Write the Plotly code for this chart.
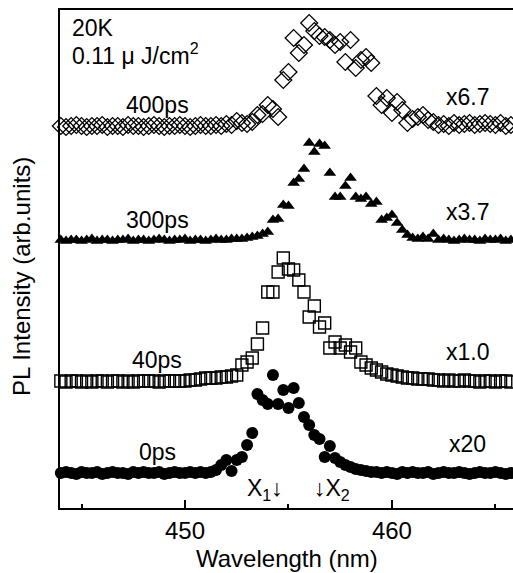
import numpy as np
import plotly.graph_objects as go

# Wavelength sampling grid (nm), 0.25 nm steps
wavelength = np.round(np.arange(444.0, 466.001, 0.25), 2)

# Time-resolved PL spectra (arb. units, each already multiplied by its scale factor)
pl_0ps = [
    1, 2, 1, 0, 2, 1, 1, 2, 0, 1, 2, 1, 1, 0, 2, 1, 2, 1, 1, 2,
    0, 1, 2, 1, 1, 2, 1, 2, 1, 2,
    4, 9, 14, 3, 14, 17, 29, 41, 80, 74, 70, 99, 70, 84, 66, 86, 71, 57, 49, 39,
    35, 17, 28, 16, 12, 9, 7, 5, 4, 3, 2,
    2, 1, 2, 1, 0, 2, 1, 2, 1, 1, 2, 0, 1, 2, 1, 1, 2, 1, 0, 1,
    2, 1, 1, 2, 1, 0, 1, 2,
]
pl_40ps = [
    1, 0, 1, 1, 0, 1, 0, 1, 1, 0, 1, 1, 0, 1, 0, 1, 1, 1, 1, 0,
    1, 1, 1, 1, 1, 2, 2, 3, 4, 4, 4,
    5, 5, 6, 7, 17, 20, 24, 38, 54, 90, 90, 110, 124, 113, 112, 102, 90, 65, 76, 55,
    59, 34, 40, 34, 37, 30, 34, 20, 17, 14, 12, 10, 8, 7, 6, 5, 4, 4, 3, 3,
    3, 2,
    2, 1, 2, 1, 1, 2, 1, 1, 0, 1, 1, 0, 1, 1, 0, 1,
]
pl_300ps = [
    2, 1, 2, 2, 1, 2, 3, 1, 2, 2, 1, 2, 2, 3, 1, 2, 2, 1, 2, 3,
    2, 1, 2, 2, 3, 1, 2, 2, 1, 2, 3, 2, 2, 3, 3,
    3, 4, 5, 6, 8, 10, 22, 23, 37, 36, 59, 63, 73, 99, 90, 98, 96, 69, 45, 45,
    56, 64, 45, 43, 45, 38, 40, 22, 24, 27, 19, 12, 7, 4, 3, 5, 3, 8,
    2, 3, 2, 1, 2, 3, 2, 2, 1, 3, 2, 2, 3, 1, 2, 2,
]
pl_400ps = [
    1, 0, 1, 2, 1, 0, 1, 1, 2, 0, 1, 1, 0, 2, 1, 1, 0, 1, 2, 1,
    0, 1, 1, 2, 1, 0, 1, 2, 1, 1, 2, 1, 3,
    2, 6, 4, 3, 5, 12, 13, 22, 18, 10, 47, 55, 89, 74, 82, 104, 96, 91, 90, 87,
    82, 85, 65, 87, 59, 67, 70, 64, 31, 22, 29, 14, 25, 17, 4, 8, 10, 12, 7, 5,
    2,
    3, 1, 4, 2, 3, 4, 2, 3, 4, 3, 2, 4, 1, 2, 0,
]

delay_labels = ["0ps", "40ps", "300ps", "400ps"]
scale_labels = ["x20", "x1.0", "x3.7", "x6.7"]
spectra = [pl_0ps, pl_40ps, pl_300ps, pl_400ps]

for s in spectra:
    assert len(s) == len(wavelength)

# vertical stacking offset and marker style for each delay
offsets = [34, 126, 266, 381]
markers = [
    dict(symbol="circle", size=12, color="black"),
    dict(symbol="square-open", size=12, color="black", line=dict(width=1.4, color="black")),
    dict(symbol="triangle-up", size=11, color="black"),
    dict(symbol="diamond-open", size=13, color="black", line=dict(width=1.3, color="black")),
]

FONT = "Liberation Sans, Arial, Helvetica, sans-serif"
LABEL_FONT = dict(family=FONT, size=23, color="black")

fig = go.Figure()
for vals, off, mk in zip(spectra, offsets, markers):
    fig.add_trace(go.Scatter(
        x=wavelength,
        y=np.asarray(vals) + off,
        mode="markers",
        marker=mk,
        cliponaxis=False,
        hoverinfo="skip",
    ))

annotations = []
# delay labels on the left, scale factors on the right
for lab, sc, off in zip(delay_labels, scale_labels, offsets):
    annotations.append(dict(x=448.65, y=off + 22, xref="x", yref="y", text=lab,
                            showarrow=False, font=LABEL_FONT,
                            xanchor="center", yanchor="middle"))
    annotations.append(dict(x=463.65, y=off + 30, xref="x", yref="y", text=sc,
                            showarrow=False, font=LABEL_FONT,
                            xanchor="center", yanchor="middle"))

# temperature and excitation density
annotations.append(dict(x=444.45, y=480, xref="x", yref="y", text="20K", showarrow=False,
                        font=LABEL_FONT, xanchor="left", yanchor="middle"))
annotations.append(dict(x=444.45, y=454, xref="x", yref="y", text="0.11 μ J/cm<sup>2</sup>",
                        showarrow=False, font=LABEL_FONT, xanchor="left", yanchor="middle"))

# exciton markers
annotations.append(dict(x=454.83, y=19, xref="x", yref="y", text="X<sub>1</sub>↓",
                        showarrow=False, font=LABEL_FONT, xanchor="right", yanchor="middle"))
annotations.append(dict(x=456.14, y=19, xref="x", yref="y", text="↓X<sub>2</sub>",
                        showarrow=False, font=LABEL_FONT, xanchor="left", yanchor="middle"))

# axis titles
annotations.append(dict(x=0.5, y=0, xref="paper", yref="paper", yshift=-50,
                        text="Wavelength (nm)", showarrow=False,
                        font=dict(family=FONT, size=24, color="black"),
                        xanchor="center", yanchor="middle"))
annotations.append(dict(x=0, y=0.464, xref="paper", yref="paper", xshift=-38,
                        text="PL Intensity (arb.units)", textangle=-90, showarrow=False,
                        font=dict(family=FONT, size=24, color="black"),
                        xanchor="center", yanchor="middle"))

fig.update_layout(
    width=513, height=573,
    margin=dict(l=60, r=0, t=10, b=65, pad=0),
    paper_bgcolor="white", plot_bgcolor="white",
    showlegend=False,
    annotations=annotations,
    xaxis=dict(
        range=[443.96, 465.85],
        showline=True, linecolor="black", linewidth=2, mirror=True,
        showgrid=False, zeroline=False,
        ticks="inside", tickvals=[450, 460], ticklen=8, tickwidth=1.5, tickcolor="black",
        tickfont=dict(family=FONT, size=24, color="black"),
        minor=dict(tickvals=[445, 455, 465], ticks="inside", ticklen=4,
                   tickwidth=1.5, tickcolor="black"),
    ),
    yaxis=dict(
        range=[0, 498],
        showline=True, linecolor="black", linewidth=2, mirror=False,
        showgrid=False, zeroline=False, ticks="", showticklabels=False,
    ),
)

fig.write_html("out.html")
